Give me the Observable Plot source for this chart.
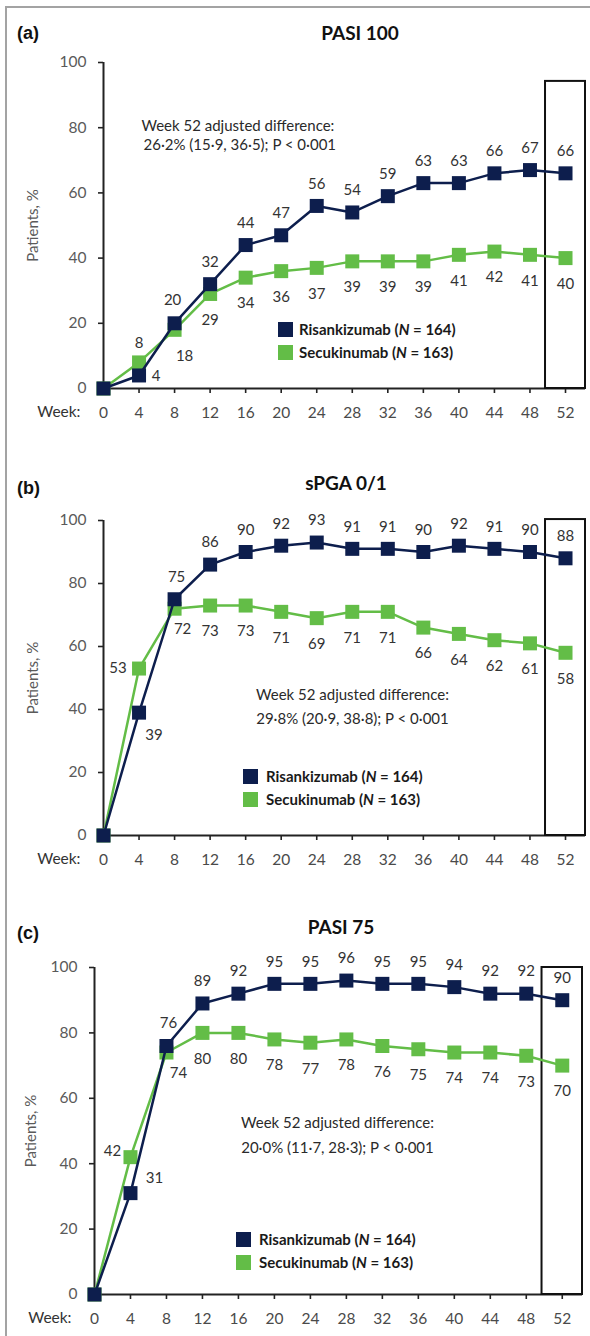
<!DOCTYPE html>
<html><head><meta charset="utf-8">
<script src="https://cdn.jsdelivr.net/npm/d3@7"></script>
<script src="https://cdn.jsdelivr.net/npm/@observablehq/plot@0.6"></script>
<style>
body{margin:0;background:#fff;}
#wrap{position:relative;width:590px;height:1336px;overflow:hidden;font-family:Lato,sans-serif;background:#fff;}
#frame{position:absolute;left:5px;top:6px;width:640px;height:1400px;border-left:2.5px solid #a3a3a3;border-top:2.5px solid #a3a3a3;}
.tag{position:absolute;left:17px;font:bold 18px "Liberation Sans",Arial,sans-serif;color:#111;transform:translateY(-50%);}
.title{position:absolute;font:bold 19px Lato,sans-serif;color:#111;transform:translate(-50%,-50%);white-space:nowrap;}
.leg{position:absolute;display:flex;align-items:center;height:20px;font:bold 15px Lato,sans-serif;color:#1a1a1a;white-space:nowrap;}
.leg .sw{display:inline-block;width:15px;height:15px;}
</style></head><body><div id="wrap"><div id="frame"></div></div>
<script>
// ---------- data ----------
const weeks = [0, 4, 8, 12, 16, 20, 24, 28, 32, 36, 40, 44, 48, 52];
const pasi100Risankizumab = [0, 4, 20, 32, 44, 47, 56, 54, 59, 63, 63, 66, 67, 66];
const pasi100Secukinumab  = [0, 8, 18, 29, 34, 36, 37, 39, 39, 39, 41, 42, 41, 40];
const spgaRisankizumab    = [0, 39, 75, 86, 90, 92, 93, 91, 91, 90, 92, 91, 90, 88];
const spgaSecukinumab     = [0, 53, 72, 73, 73, 71, 69, 71, 71, 66, 64, 62, 61, 58];
const pasi75Risankizumab  = [0, 31, 76, 89, 92, 95, 95, 96, 95, 95, 94, 92, 92, 90];
const pasi75Secukinumab   = [0, 42, 74, 80, 80, 78, 77, 78, 76, 75, 74, 74, 73, 70];
const yTicks = [0, 20, 40, 60, 80, 100];
const panelTags = ["(a)", "(b)", "(c)"];
const panelTitles = ["PASI 100", "sPGA 0/1", "PASI 75"];
const seriesNames = ["Risankizumab", "Secukinumab"];
const seriesN = [164, 163];
const noteHead = "Week 52 adjusted difference:";
const noteValues = ["26·2% (15·9, 36·5); P < 0·001", "29·8% (20·9, 38·8); P < 0·001", "20·0% (11·7, 28·3); P < 0·001"];
const yLabel = "Patients, %";
const xLabel = "Week:";
const highlightWeek = 52;

// ---------- styling / layout ----------
const RIS = "#0d1e4d", SEC = "#63bd47";
const XMAX = 54.25;
const layouts = [
  {svgTop:45, ml:103, xRight:585, yTop:62, yBottom:388, boxTop:94.2,
   titleX:360, titleY:32, tagY:33, yLabelX:33,
   note:{anchor:"start", x:[141,143], y:[126,145]},
   legend:{sqX:285, textX:299, rows:[329,352]},
   offsets:{"ris-4":{dx:17,dy:1}, "sec-4":{dx:0,dy:-19}, "ris-8":{dx:-2,dy:-23}, "sec-8":{dx:10,dy:26}}},
  {svgTop:495, ml:103, xRight:585, yTop:520, yBottom:835, boxTop:100.3,
   titleX:346, titleY:482, tagY:488, yLabelX:33,
   note:{anchor:"middle", x:[352,352], y:[695,719]},
   legend:{sqX:250, textX:266, rows:[776,799]},
   offsets:{"sec-4":{dx:-21,dy:0}, "ris-4":{dx:15,dy:23}, "ris-8":{dx:2,dy:-22}, "sec-8":{dx:8,dy:20}}},
  {svgTop:945, ml:94, xRight:582, yTop:967, yBottom:1294, boxTop:100,
   titleX:341, titleY:926, tagY:933, yLabelX:31,
   note:{anchor:"middle", x:[337,337], y:[1123,1148]},
   legend:{sqX:243, textX:259, rows:[1239,1262]},
   offsets:{"sec-4":{dx:-18,dy:-6}, "ris-4":{dx:24,dy:-15}, "ris-8":{dx:2,dy:-23}, "sec-8":{dx:12,dy:21}}}
];
const panelData = [
  [pasi100Risankizumab, pasi100Secukinumab],
  [spgaRisankizumab, spgaSecukinumab],
  [pasi75Risankizumab, pasi75Secukinumab]
];

const wrap = document.getElementById("wrap");

panelData.forEach((pair, pi) => {
  const L = layouts[pi];
  const kx = (L.xRight - L.ml) / XMAX, ky = (L.yBottom - L.yTop) / 100;
  const xv = px => (px - L.ml) / kx;
  const yv = py => (L.yBottom - py) / ky;
  const height = L.yBottom - L.svgTop + 40;
  const mt = L.yTop - L.svgTop;
  const mb = height - (L.yBottom - L.svgTop);

  const ris = weeks.map((w, i) => ({week: w, value: pair[0][i], key: "ris"}));
  const sec = weeks.map((w, i) => ({week: w, value: pair[1][i], key: "sec"}));
  const labels = [...sec, ...ris].filter(d => d.week > 0).map(d => {
    const o = L.offsets[d.key + "-" + d.week] ?? (d.key === "ris" ? {dx:0, dy:-22} : {dx:0, dy:26});
    return {x: d.week + o.dx / kx, y: d.value - o.dy / ky, t: String(d.value)};
  });
  const notes = [
    {x: xv(L.note.x[0]), y: yv(L.note.y[0]), t: noteHead},
    {x: xv(L.note.x[1]), y: yv(L.note.y[1]), t: noteValues[pi]}
  ];

  const svg = Plot.plot({
    width: 590, height,
    marginLeft: L.ml, marginRight: 590 - L.xRight, marginTop: mt, marginBottom: mb,
    x: {domain: [0, XMAX], axis: null},
    y: {domain: [0, 100], axis: null},
    style: {fontFamily: "Lato, sans-serif", overflow: "visible", background: "transparent"},
    marks: [
      Plot.axisY({ticks: yTicks, tickSize: 5, tickPadding: 12, fontSize: 15.5, fill: "#5a5a5a", stroke: "#222", strokeWidth: 1.6, label: null}),
      Plot.axisX({ticks: weeks, tickSize: 5, tickPadding: 13.5, fontSize: 15.5, fill: "#4a4a4a", stroke: "#222", strokeWidth: 1.6, label: null}),
      Plot.ruleX([0], {y1: 0, y2: 100, stroke: "#222", strokeWidth: 2}),
      Plot.ruleY([0], {x1: 0, x2: XMAX, stroke: "#222", strokeWidth: 2}),
      Plot.rect([highlightWeek], {x1: d => d - 2.25, x2: d => d + 2.25, y1: 0, y2: L.boxTop, fill: "none", stroke: "#111", strokeWidth: 2}),
      Plot.text([yLabel], {x: xv(L.yLabelX), y: 50, text: d => d, rotate: -90, fontSize: 15, fill: "#5a5a5a"}),
      Plot.text([xLabel], {x: xv(L.ml - 23), y: yv(L.yBottom + 24), text: d => d, textAnchor: "end", fontSize: 15.5, fill: "#333"}),
      Plot.line(sec, {x: "week", y: "value", stroke: SEC, strokeWidth: 2.5}),
      Plot.dot(sec, {x: "week", y: "value", symbol: "square", r: 7.9, fill: SEC}),
      Plot.line(ris, {x: "week", y: "value", stroke: RIS, strokeWidth: 2.5}),
      Plot.dot(ris, {x: "week", y: "value", symbol: "square", r: 7.9, fill: RIS}),
      Plot.text(labels, {x: "x", y: "y", text: "t", fontSize: 15, fill: "#333"}),
      Plot.text(notes, {x: "x", y: "y", text: "t", textAnchor: L.note.anchor, fontSize: 15, fill: "#2a2a2a"})
    ]
  });
  svg.style.position = "absolute";
  svg.style.left = "0px";
  svg.style.top = L.svgTop + "px";
  wrap.append(svg);

  const tag = document.createElement("div");
  tag.className = "tag"; tag.textContent = panelTags[pi];
  tag.style.top = L.tagY + "px";
  wrap.append(tag);

  const title = document.createElement("div");
  title.className = "title"; title.textContent = panelTitles[pi];
  title.style.left = L.titleX + "px"; title.style.top = L.titleY + "px";
  wrap.append(title);

  seriesNames.forEach((name, si) => {
    const row = document.createElement("div");
    row.className = "leg";
    row.style.left = (L.legend.sqX - 7.5) + "px";
    row.style.top = (L.legend.rows[si] - 10) + "px";
    const sw = document.createElement("span");
    sw.className = "sw"; sw.style.background = si === 0 ? RIS : SEC;
    sw.style.marginRight = (L.legend.textX - (L.legend.sqX + 7.5)) + "px";
    const txt = document.createElement("span");
    txt.innerHTML = `${name} (<i>N</i> = ${seriesN[si]})`;
    row.append(sw, txt);
    wrap.append(row);
  });
});
</script>
</body></html>
